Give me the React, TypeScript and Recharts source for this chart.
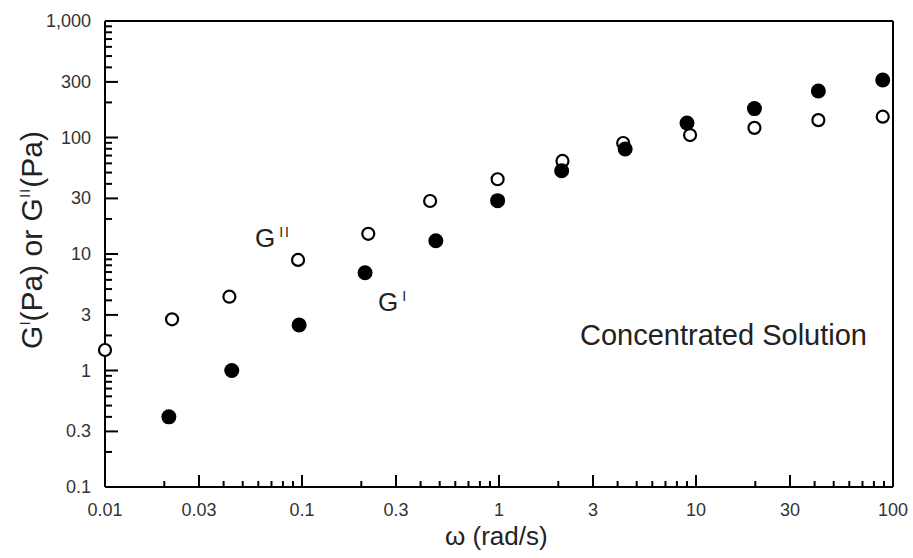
import React from 'react';
import { ScatterChart, Scatter, XAxis, YAxis, ReferenceLine } from 'recharts';

// angular frequency (rad/s) and moduli (Pa)
const omegaLoss = [0.01, 0.0219, 0.0428, 0.0955, 0.217, 0.447, 0.984, 2.1, 4.27, 9.33, 19.8, 41.8, 88.7];
const gLoss = [1.5, 2.75, 4.3, 8.9, 14.9, 28.5, 43.8, 62.9, 89.7, 105, 121, 141, 151];

const omegaStorage = [0.0211, 0.044, 0.0967, 0.209, 0.478, 0.984, 2.08, 4.37, 9.0, 19.8, 41.8, 88.7];
const gStorage = [0.4, 1.0, 2.46, 6.9, 13.0, 28.7, 51.9, 79.6, 133, 177, 251, 312];

// log axis ticks: every 1..9 multiple, labelled at 1 and 3
const mantissas = [1, 2, 3, 4, 5, 6, 7, 8, 9];
const xDecades = [0.01, 0.1, 1, 10];
const yDecades = [0.1, 1, 10, 100];
const majorMantissas = [1, 3];

const xTicks = [...xDecades.flatMap(d => mantissas.map(m => +(d * m).toPrecision(3))), 100];
const yTicks = [...yDecades.flatMap(d => mantissas.map(m => +(d * m).toPrecision(3))), 1000];

const lossData = omegaLoss.map((w, i) => ({ w, g: gLoss[i] }));
const storageData = omegaStorage.map((w, i) => ({ w, g: gStorage[i] }));

const FONT = 'Arial, "Liberation Sans", sans-serif';

const mantissaOf = (v: number) => Math.round(v / Math.pow(10, Math.floor(Math.log10(v) + 1e-9)));
const fmt = (v: number) => v.toLocaleString('en-US', { maximumFractionDigits: 3 });

const XTick = (props: any) => {
    const { x, y, payload } = props;
    const major = majorMantissas.includes(mantissaOf(payload.value));
    return (
        <g>
            <line x1={x} x2={x} y1={y} y2={y - (major ? 12 : 6)} stroke="#000" strokeWidth={2} />
            {major && (
                <text x={x} y={y + 29} textAnchor="middle" fontSize={18} fontFamily={FONT} fill="#333">
                    {fmt(payload.value)}
                </text>
            )}
        </g>
    );
};

const YTick = (props: any) => {
    const { x, y, payload } = props;
    const major = majorMantissas.includes(mantissaOf(payload.value));
    return (
        <g>
            <line x1={x} x2={x + (major ? 13 : 7)} y1={y} y2={y} stroke="#000" strokeWidth={2} />
            {major && (
                <text x={x - 14} y={y + 6} textAnchor="end" fontSize={18} fontFamily={FONT} fill="#333">
                    {fmt(payload.value)}
                </text>
            )}
        </g>
    );
};

const OpenMark = (p: any) => <circle cx={p.cx} cy={p.cy} r={6} fill="#fff" stroke="#000" strokeWidth={2.2} />;
const FilledMark = (p: any) => <circle cx={p.cx} cy={p.cy} r={7.5} fill="#000" />;

export default function App() {
    return (
        <div style={{ position: 'absolute', left: 0, top: 0, background: '#fff' }}>
            <ScatterChart width={913} height={558} margin={{ top: 21, right: 20, bottom: 31, left: 45 }}>
                <XAxis
                    dataKey="w"
                    type="number"
                    scale="log"
                    domain={[0.01, 100]}
                    ticks={xTicks}
                    interval={0}
                    height={40}
                    tickSize={0}
                    tickMargin={0}
                    tickLine={false}
                    tick={<XTick />}
                    axisLine={{ stroke: '#000', strokeWidth: 2 }}
                />
                <YAxis
                    dataKey="g"
                    type="number"
                    scale="log"
                    domain={[0.1, 1000]}
                    ticks={yTicks}
                    interval={0}
                    width={60}
                    tickSize={0}
                    tickMargin={0}
                    tickLine={false}
                    tick={<YTick />}
                    axisLine={{ stroke: '#000', strokeWidth: 2 }}
                />
                <ReferenceLine y={1000} stroke="#000" strokeWidth={2} />
                <ReferenceLine x={100} stroke="#000" strokeWidth={2} />
                <Scatter data={lossData} shape={<OpenMark />} isAnimationActive={false} />
                <Scatter data={storageData} shape={<FilledMark />} isAnimationActive={false} />

                <text transform="translate(42,240) rotate(-90)" textAnchor="middle" fontSize={30} fontFamily={FONT} fill="#222">
                    G<tspan fontSize={15} dy={-12}>I</tspan><tspan dy={12}>(Pa) or G</tspan>
                    <tspan fontSize={15} dy={-12} letterSpacing={1}>II</tspan><tspan dy={12}>(Pa)</tspan>
                </text>
                <text x={445} y={545} fontSize={26} fontFamily={FONT} fill="#222">
                    ω (rad/s)
                </text>
                <text x={255} y={247} fontSize={26} fontFamily={FONT} fill="#222">
                    G<tspan fontSize={14} dx={4} dy={-10} letterSpacing={2}>II</tspan>
                </text>
                <text x={378} y={311} fontSize={26} fontFamily={FONT} fill="#222">
                    G<tspan fontSize={14} dx={4} dy={-10}>I</tspan>
                </text>
                <text x={580} y={345} fontSize={29} fontFamily={FONT} fill="#222">
                    Concentrated Solution
                </text>
            </ScatterChart>
        </div>
    );
}
